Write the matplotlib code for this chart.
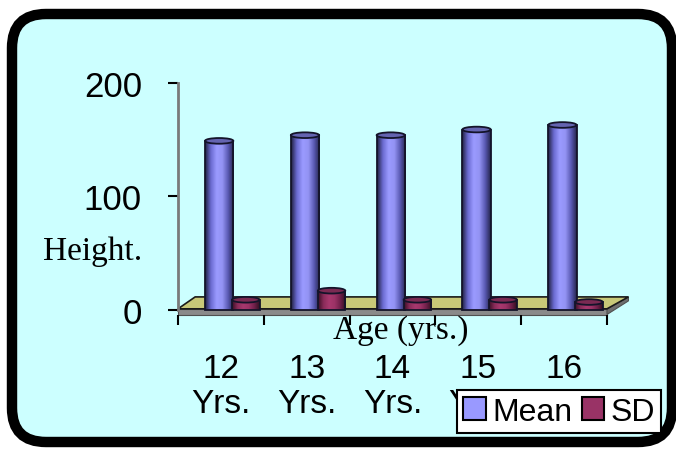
import numpy as np
import matplotlib.pyplot as plt
from matplotlib.patches import FancyBboxPatch, Ellipse, Polygon, Patch
from matplotlib.colors import LinearSegmentedColormap
from matplotlib.transforms import IdentityTransform

plt.rcParams['font.family'] = ['Liberation Sans', 'DejaVu Sans']

# Height by age group
age_labels = ['12\nYrs.', '13\nYrs.', '14\nYrs.', '15\nYrs.', '16\nYrs.']
mean_height = [149, 154, 154, 159, 163]
sd_height = [9, 17, 9, 9, 7]

mean_shades = ['#20203f', '#6a6ad0', '#9a9aff', '#9494f4', '#5a5ab4', '#24244a']
sd_shades = ['#3a0f25', '#8a2c5a', '#a8386e', '#9c3266', '#70204a', '#30101f']


def draw_cylinders(ax, xs, values, width, shades, top_color, z):
    # flat bars used as outline + clip path for a horizontal gradient
    cmap = LinearSegmentedColormap.from_list('cyl', shades)
    grad = np.linspace(0, 1, 128).reshape(1, -1)
    bars = ax.bar(xs, values, width=width, facecolor='none',
                  edgecolor='#14142a', linewidth=1.3, zorder=z + 0.2)
    for bar in bars:
        x0 = bar.get_x()
        w = bar.get_width()
        h = bar.get_height()
        im = ax.imshow(grad, extent=[x0, x0 + w, 0, h], cmap=cmap,
                       aspect='auto', interpolation='bilinear', zorder=z)
        im.set_clip_path(bar)
        # cylinder top
        ax.add_patch(Ellipse((x0 + w / 2, h), w, 5, facecolor=top_color,
                             edgecolor='#14142a', linewidth=1.3, zorder=z + 0.3))
    return bars


fig = plt.figure(figsize=(6.76, 4.52), dpi=100)

# rounded panel behind the chart (pixel coords)
frame = FancyBboxPatch((12, 9), 660, 428,
                       boxstyle='round,pad=0,rounding_size=34',
                       facecolor='#ccffff', edgecolor='black', linewidth=7.5,
                       transform=IdentityTransform(), zorder=-5)
fig.patches.append(frame)

ax = fig.add_axes([178 / 676, (452 - 315.5) / 452, 429 / 676, 231.5 / 452])
ax.patch.set_visible(False)

x = np.arange(len(age_labels))

# floor of the plot area
depth = 0.2
floor_top = Polygon([(-0.5, 1), (-0.5 + depth, 11.5), (4.5 + depth + 0.05, 11.5), (4.5, 1)],
                    closed=True, facecolor='#c8c878', edgecolor='#1a1a1a',
                    linewidth=1.2, zorder=1, clip_on=False)
floor_side = Polygon([(-0.5, 1), (4.5, 1), (4.5, -4), (-0.5, -4)],
                     closed=True, facecolor='#8a8a8a', edgecolor='#505050',
                     linewidth=0.8, zorder=1, clip_on=False)
floor_end = Polygon([(4.5, 1), (4.5 + depth + 0.05, 11.5), (4.5 + depth + 0.05, 8), (4.5, -4)],
                    closed=True, facecolor='#6e6e6e', edgecolor='#505050',
                    linewidth=0.8, zorder=1, clip_on=False)
for p in (floor_side, floor_end, floor_top):
    ax.add_patch(p)

draw_cylinders(ax, x - 0.02, mean_height, 0.33, mean_shades, '#6464b0', 3)
draw_cylinders(ax, x + 0.29, sd_height, 0.32, sd_shades, '#7a2a52', 5)

ax.set_xlim(-0.5, 4.5)
ax.set_ylim(-4, 200)

for side in ('top', 'right'):
    ax.spines[side].set_visible(False)
ax.spines['left'].set_color('#7a7a7a')
ax.spines['left'].set_linewidth(2)
ax.spines['left'].set_bounds(0, 200)
ax.spines['bottom'].set_visible(False)

ax.set_yticks([0, 100, 200])
ax.tick_params(axis='y', length=7, width=1.5, color='black', pad=19, labelsize=25)

ax.set_xticks(x)
ax.set_xticklabels(age_labels, linespacing=1.15)
ax.set_xticks(np.arange(-0.5, 5, 1), minor=True)
ax.tick_params(axis='x', which='major', length=0, pad=28, labelsize=24)
ax.tick_params(axis='x', which='minor', length=7, width=1.5, color='black')

fig.text(43 / 676, 1 - 252 / 452, 'Height.', family='Liberation Serif',
         fontsize=24, ha='left', va='center')
fig.text(401 / 676, 1 - 331 / 452, 'Age (yrs.)', family='Liberation Serif',
         fontsize=24, ha='center', va='center')

handles = [Patch(facecolor='#9999ff', edgecolor='black', linewidth=1.5, label='Mean'),
           Patch(facecolor='#993366', edgecolor='black', linewidth=1.5, label='SD')]
leg = fig.legend(handles=handles, loc='lower left', ncol=2,
                 bbox_to_anchor=(457 / 676, (452 - 434) / 452),
                 fontsize=23, frameon=True, fancybox=False, framealpha=1,
                 edgecolor='black', borderpad=0.2, handlelength=0.7,
                 handleheight=0.7, handletextpad=0.2, columnspacing=0.3,
                 borderaxespad=0)
leg.get_frame().set_linewidth(1.5)

fig.savefig('out.png', dpi=100)
